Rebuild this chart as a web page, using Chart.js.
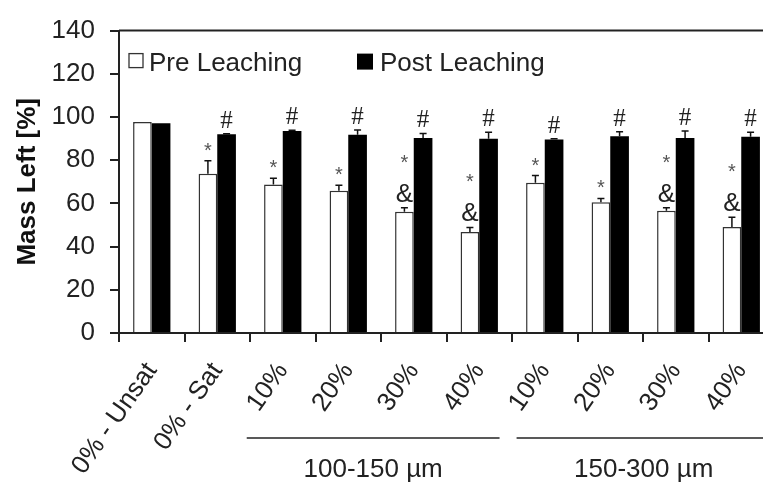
<!DOCTYPE html>
<html>
<head>
<meta charset="utf-8">
<script src="https://cdn.jsdelivr.net/npm/chart.js@4.4.1/dist/chart.umd.min.js"></script>
<style>
  html, body { margin: 0; padding: 0; background: #fff; overflow: hidden; }
  #wrap { position: relative; width: 785px; height: 485px; }
</style>
</head>
<body>
<div id="wrap"><canvas id="c"></canvas></div>
<script>
const categories = ['0% - Unsat', '0% - Sat', '10%', '20%', '30%', '40%', '10%', '20%', '30%', '40%'];
const preValues  = [97.7, 73.7, 68.7, 65.9, 56.1, 46.8, 69.6, 60.5, 56.6, 49.1];
const preErr     = [0, 6.1, 2.9, 2.5, 1.9, 2.1, 3.3, 1.8, 1.4, 4.5];
const postValues = [97.1, 92.0, 93.5, 91.8, 90.3, 89.9, 89.6, 91.1, 90.3, 90.9];
const postErr    = [0, 0.3, 0.4, 2.2, 2.1, 3.0, 0.3, 2.1, 3.2, 2.0];
const preMarks   = ['', '*', '*', '*', '*&', '*&', '*', '*', '*&', '*&'];
const postMarks  = ['', '#', '#', '#', '#', '#', '#', '#', '#', '#'];
const groupLabels = ['100-150 µm', '150-300 µm'];
const yTicks = [0, 20, 40, 60, 80, 100, 120, 140];
const seriesNames = ['Pre Leaching', 'Post Leaching'];

const FONT = '"Liberation Sans", Arial, sans-serif';
const TXT = '#222';

const extras = {
  id: 'extras',
  afterDatasetsDraw(chart) {
    const ctx = chart.ctx;
    const ys = chart.scales.y;
    const xs = chart.scales.x;
    const ca = chart.chartArea;
    const errs = [preErr, postErr];
    const marks = [preMarks, postMarks];
    ctx.save();
    [0, 1].forEach(di => {
      const meta = chart.getDatasetMeta(di);
      meta.data.forEach((el, i) => {
        const v = chart.data.datasets[di].data[i];
        const e = errs[di][i];
        const yTop = ys.getPixelForValue(v + e);
        if (e > 0) {
          ctx.strokeStyle = '#111';
          ctx.lineWidth = 1.5;
          ctx.beginPath();
          ctx.moveTo(el.x, el.y);
          ctx.lineTo(el.x, yTop);
          ctx.moveTo(el.x - 3.5, yTop);
          ctx.lineTo(el.x + 3.5, yTop);
          ctx.stroke();
        }
        const m = marks[di][i];
        ctx.textAlign = 'center';
        ctx.textBaseline = 'alphabetic';
        if (m === '#') {
          ctx.fillStyle = '#222';
          ctx.font = '25px "Liberation Serif", serif';
          ctx.fillText('#', el.x, yTop - 6);
        } else if (m === '*') {
          ctx.fillStyle = '#555';
          ctx.font = '20px ' + FONT;
          ctx.fillText('*', el.x, yTop - 4);
        } else if (m === '*&') {
          ctx.fillStyle = '#222';
          ctx.font = '26px ' + FONT;
          ctx.fillText('&', el.x, yTop - 6);
          ctx.fillStyle = '#555';
          ctx.font = '20px ' + FONT;
          ctx.fillText('*', el.x, yTop - 39);
        }
      });
    });
    ctx.strokeStyle = '#222';
    ctx.lineWidth = 2;
    ctx.beginPath();
    ctx.moveTo(ca.left, ca.top);
    ctx.lineTo(ca.right, ca.top);
    ctx.lineTo(ca.right, ca.bottom);
    ctx.stroke();
    ctx.lineWidth = 1.3;
    ctx.strokeStyle = '#333';
    ctx.fillStyle = '#fff';
    ctx.fillRect(ca.left + 10, ca.top + 23, 14, 14);
    ctx.strokeRect(ca.left + 10, ca.top + 23, 14, 14);
    ctx.fillStyle = '#000';
    ctx.fillRect(ca.left + 238, ca.top + 23, 16, 16);
    ctx.fillStyle = TXT;
    ctx.font = '26px ' + FONT;
    ctx.textAlign = 'left';
    ctx.fillText(seriesNames[0], ca.left + 30, ca.top + 40);
    ctx.fillText(seriesNames[1], ca.left + 261, ca.top + 40);
    const spans = [[1.45, 5.31], [5.57, 9.45]];
    spans.forEach((s, gi) => {
      const x1 = xs.getPixelForValue(s[0]);
      const x2 = xs.getPixelForValue(s[1]);
      const y = ca.bottom + 105;
      ctx.strokeStyle = '#222';
      ctx.lineWidth = 1.6;
      ctx.beginPath();
      ctx.moveTo(x1, y);
      ctx.lineTo(x2, y);
      ctx.stroke();
      ctx.fillStyle = TXT;
      ctx.font = '26px ' + FONT;
      ctx.textAlign = 'center';
      ctx.fillText(groupLabels[gi], (x1 + x2) / 2, ca.bottom + 144);
    });
    ctx.restore();
  }
};

new Chart(document.getElementById('c'), {
  type: 'bar',
  data: {
    labels: categories,
    datasets: [
      { label: seriesNames[0], data: preValues, backgroundColor: '#fff', borderColor: '#333', borderWidth: 1.5,
        categoryPercentage: 0.57, barPercentage: 1.0 },
      { label: seriesNames[1], data: postValues, backgroundColor: '#000', borderWidth: 0,
        categoryPercentage: 0.57, barPercentage: 1.0 }
    ]
  },
  options: {
    responsive: true,
    maintainAspectRatio: false,
    animation: false,
    devicePixelRatio: 1,
    layout: { padding: { top: 22, right: 11, bottom: 0, left: 0 } },
    plugins: { legend: { display: false }, tooltip: { enabled: false } },
    scales: {
      x: {
        grid: { display: true, drawOnChartArea: false, drawTicks: true, tickLength: 9, color: '#222', lineWidth: 2, offset: true },
        border: { display: true, color: '#222', width: 2 },
        ticks: { color: TXT, font: { family: FONT, size: 26 }, minRotation: 55, maxRotation: 55, padding: 15, autoSkip: false },
        afterFit(scale) { scale.height = 152; }
      },
      y: {
        min: 0, max: 140,
        afterBuildTicks(scale) { scale.ticks = yTicks.map(v => ({ value: v })); },
        grid: { display: true, drawOnChartArea: false, drawTicks: true, tickLength: 9, color: '#222', lineWidth: 2 },
        border: { display: true, color: '#222', width: 2 },
        ticks: { color: TXT, font: { family: FONT, size: 26 }, padding: 15 },
        title: { display: true, text: 'Mass Left [%]', color: '#111', font: { family: FONT, size: 26, weight: 'bold' }, padding: { top: 12, bottom: 0 } },
        afterFit(scale) { scale.width = 119; }
      }
    }
  },
  plugins: [extras]
});
</script>
</body>
</html>
